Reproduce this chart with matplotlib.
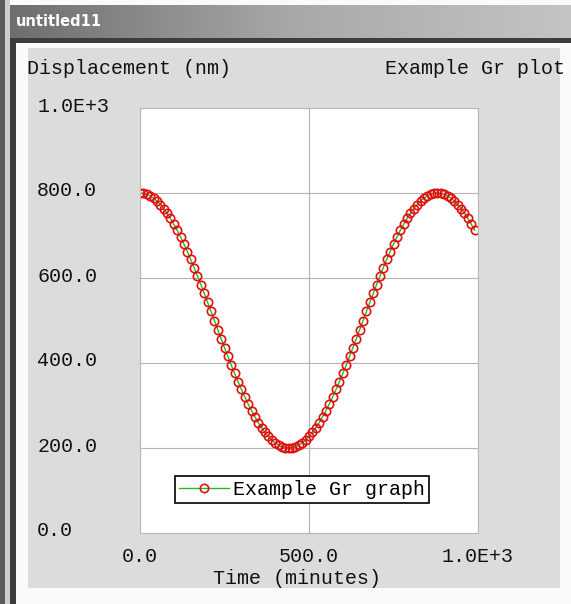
import numpy as np
import matplotlib
matplotlib.use('Agg')
import matplotlib.pyplot as plt
import matplotlib.transforms as mtransforms
from matplotlib.patches import Rectangle
from matplotlib.colors import LinearSegmentedColormap

# Data
time_min = [0, 10, 20, 30, 40, 50, 60, 70, 80, 90,
            100, 110, 120, 130, 140, 150, 160, 170, 180, 190,
            200, 210, 220, 230, 240, 250, 260, 270, 280, 290,
            300, 310, 320, 330, 340, 350, 360, 370, 380, 390,
            400, 410, 420, 430, 440, 450, 460, 470, 480, 490,
            500, 510, 520, 530, 540, 550, 560, 570, 580, 590,
            600, 610, 620, 630, 640, 650, 660, 670, 680, 690,
            700, 710, 720, 730, 740, 750, 760, 770, 780, 790,
            800, 810, 820, 830, 840, 850, 860, 870, 880, 890,
            900, 910, 920, 930, 940, 950, 960, 970, 980, 990]
displacement = [800.0, 799.2, 796.9, 793.1, 787.8, 781.1, 772.9, 763.3, 752.4, 740.2,
                726.7, 712.1, 696.5, 679.8, 662.2, 643.8, 624.6, 604.8, 584.5, 563.8,
                542.7, 521.4, 500.0, 478.6, 457.3, 436.2, 415.5, 395.2, 375.4, 356.2,
                337.8, 320.2, 303.5, 287.9, 273.3, 259.8, 247.6, 236.7, 227.1, 218.9,
                212.2, 206.9, 203.1, 200.8, 200.0, 200.8, 203.1, 206.9, 212.2, 218.9,
                227.1, 236.7, 247.6, 259.8, 273.3, 287.9, 303.5, 320.2, 337.8, 356.2,
                375.4, 395.2, 415.5, 436.2, 457.3, 478.6, 500.0, 521.4, 542.7, 563.8,
                584.5, 604.8, 624.6, 643.8, 662.2, 679.8, 696.5, 712.1, 726.7, 740.2,
                752.4, 763.3, 772.9, 781.1, 787.8, 793.1, 796.9, 799.2, 800.0, 799.2,
                796.9, 793.1, 787.8, 781.1, 772.9, 763.3, 752.4, 740.2, 726.7, 712.1]
x_ticks = [0, 500, 1000]
x_tick_labels = ['0.0', '500.0', '1.0E+3']
y_ticks = [0, 200, 400, 600, 800, 1000]
y_tick_labels = ['0.0', '200.0', '400.0', '600.0', '800.0', '1.0E+3']

plt.rcParams['font.family'] = ['Liberation Mono', 'DejaVu Sans Mono']
plt.rcParams['font.size'] = 14.4

W, H = 571, 604
fig = plt.figure(figsize=(W / 100, H / 100), dpi=100, facecolor='#fafafa')


# pixel box -> figure rectangle
def box(x0, y0, x1, y1, color, z=0):
    fig.add_artist(Rectangle((x0 / W, 1 - y1 / H), (x1 - x0) / W, (y1 - y0) / H,
                             transform=fig.transFigure, facecolor=color,
                             edgecolor='none', zorder=z))


# window frame
box(0, 0, 5, H, '#5a5a5a')
box(5, 0, 10, H, '#cfcfcf')
box(10, 40, 16, H, '#3c3c3c')
box(10, 38, W, 43, '#3c3c3c')
box(28, 48, 560, 588, '#dcdcdc')

# title bar gradient
tb = fig.add_axes([10 / W, 1 - 38 / H, (W - 10) / W, 33 / H])
grad = LinearSegmentedColormap.from_list('tb', ['#6e6e6e', '#a8a8a8', '#c4c4c4'])
tb.imshow(np.linspace(0, 1, 256).reshape(1, -1), cmap=grad, aspect='auto')
tb.axis('off')
fig.text(16 / W, 1 - 21 / H, 'untitled11', color='white', fontsize=10.5,
         fontweight='bold', family='DejaVu Sans', va='center', ha='left')

# plot area
ax = fig.add_axes([140 / W, 1 - 533 / H, 338 / W, 425 / H])
ax.set_facecolor('white')
ax.plot(time_min, displacement, color='#22bb22', lw=1.0, marker='o', ms=6,
        mfc='none', mec='#e01010', mew=1.2, label='Example Gr graph')
ax.set_xlim(0, 1000)
ax.set_ylim(0, 1000)
ax.set_xticks(x_ticks, x_tick_labels)
ax.set_yticks(y_ticks, y_tick_labels)
ax.grid(True, color='#b4b4b4', lw=0.8)
ax.set_axisbelow(True)
for s in ax.spines.values():
    s.set_color('#b8b8b8')
    s.set_linewidth(0.8)
ax.tick_params(axis='both', length=0, colors='#111111')
ax.tick_params(axis='y', pad=74)
ax.tick_params(axis='x', pad=10)
shift_up = mtransforms.ScaledTranslation(0, 4 / 100, fig.dpi_scale_trans)
for lbl in ax.get_yticklabels():
    lbl.set_ha('left')
    lbl.set_transform(lbl.get_transform() + shift_up)

ax.set_xlabel('Time (minutes)', color='#111111')
ax.xaxis.set_label_coords((297 - 140) / 338, (533 - 578) / 425)
ax.xaxis.label.set_va('center')

fig.text(27 / W, 1 - 68 / H, 'Displacement (nm)', ha='left', va='center', color='#111111')
fig.text(565 / W, 1 - 68 / H, 'Example Gr plot', ha='right', va='center', color='#111111')

leg = ax.legend(loc='center', bbox_to_anchor=(0.478, 0.102), numpoints=1,
                fancybox=False, framealpha=1, edgecolor='black', borderpad=0.2,
                handlelength=2.5, handletextpad=0.2, borderaxespad=0)
leg.get_frame().set_linewidth(1.2)

fig.savefig('out.png', dpi=100, facecolor=fig.get_facecolor())
